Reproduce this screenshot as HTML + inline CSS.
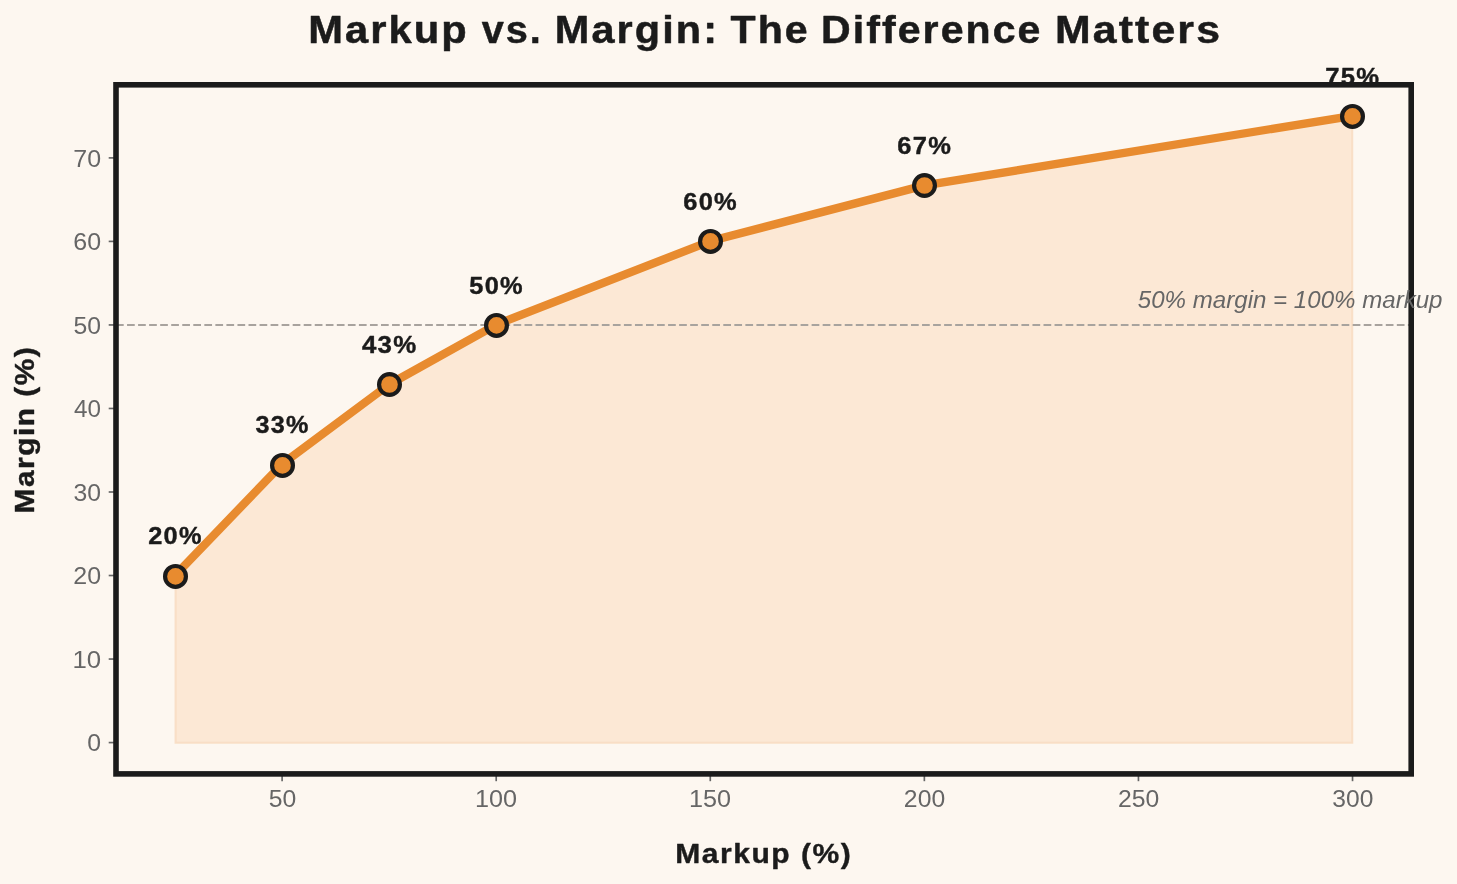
<!DOCTYPE html><html><head><meta charset="utf-8"><style>html,body{margin:0;padding:0;background:#FDF7F0;width:1457px;height:884px;overflow:hidden}svg{display:block;will-change:transform}text{font-family:"Liberation Sans",sans-serif}</style></head><body>
<svg width="1457" height="884" viewBox="0 0 1457 884">
<rect x="0" y="0" width="1457" height="884" fill="#FDF7F0"/>
<polygon points="175.60,575.17 282.36,463.80 389.41,384.25 496.45,324.59 710.53,241.06 924.61,185.38 1352.20,115.77 1352.20,742.73 175.60,742.73" fill="#FCE8D5" stroke="#F8DDC3" stroke-width="2.08" stroke-opacity="0.9"/>
<line x1="116.0" y1="324.94" x2="1411.2" y2="324.94" stroke="#A8A39E" stroke-width="2.08" stroke-dasharray="7.7083 3.3333"/>
<polyline points="175.32,575.17 282.36,463.80 389.41,384.25 496.45,324.59 710.53,241.06 924.61,185.38 1352.78,115.77" fill="none" stroke="#E88B2F" stroke-width="8.33" stroke-linejoin="round"/>
<circle cx="175.50" cy="576.40" r="10.42" fill="#E88B2F" stroke="#1B1B1B" stroke-width="4.17"/>
<circle cx="282.50" cy="465.40" r="10.42" fill="#E88B2F" stroke="#1B1B1B" stroke-width="4.17"/>
<circle cx="389.50" cy="384.50" r="10.42" fill="#E88B2F" stroke="#1B1B1B" stroke-width="4.17"/>
<circle cx="496.50" cy="325.40" r="10.42" fill="#E88B2F" stroke="#1B1B1B" stroke-width="4.17"/>
<circle cx="710.50" cy="241.40" r="10.42" fill="#E88B2F" stroke="#1B1B1B" stroke-width="4.17"/>
<circle cx="924.50" cy="185.50" r="10.42" fill="#E88B2F" stroke="#1B1B1B" stroke-width="4.17"/>
<circle cx="1352.50" cy="116.40" r="10.42" fill="#E88B2F" stroke="#1B1B1B" stroke-width="4.17"/>
<text transform="translate(148.27,543.62) scale(1.0586,1)" font-size="23.929" letter-spacing="0.05em" font-weight="bold" font-style="normal" fill="#1B1B1B" stroke="#1B1B1B" stroke-width="0.4" stroke-linejoin="round">20%</text>
<text transform="translate(255.57,433.25) scale(1.0535,1)" font-size="23.929" letter-spacing="0.05em" font-weight="bold" font-style="normal" fill="#1B1B1B" stroke="#1B1B1B" stroke-width="0.4" stroke-linejoin="round">33%</text>
<text transform="translate(361.95,352.70) scale(1.0798,1)" font-size="23.929" letter-spacing="0.05em" font-weight="bold" font-style="normal" fill="#1B1B1B" stroke="#1B1B1B" stroke-width="0.4" stroke-linejoin="round">43%</text>
<text transform="translate(469.35,294.04) scale(1.0607,1)" font-size="23.929" letter-spacing="0.05em" font-weight="bold" font-style="normal" fill="#1B1B1B" stroke="#1B1B1B" stroke-width="0.4" stroke-linejoin="round">50%</text>
<text transform="translate(683.22,209.51) scale(1.0638,1)" font-size="23.929" letter-spacing="0.05em" font-weight="bold" font-style="normal" fill="#1B1B1B" stroke="#1B1B1B" stroke-width="0.4" stroke-linejoin="round">60%</text>
<text transform="translate(897.25,153.83) scale(1.0658,1)" font-size="23.929" letter-spacing="0.05em" font-weight="bold" font-style="normal" fill="#1B1B1B" stroke="#1B1B1B" stroke-width="0.4" stroke-linejoin="round">67%</text>
<text transform="translate(1325.27,85.22) scale(1.0720,1)" font-size="23.929" letter-spacing="0.05em" font-weight="bold" font-style="normal" fill="#1B1B1B" stroke="#1B1B1B" stroke-width="0.4" stroke-linejoin="round">75%</text>
<line x1="282.11" y1="773.9" x2="282.11" y2="781.20" stroke="#666666" stroke-width="1.67"/>
<line x1="496.20" y1="773.9" x2="496.20" y2="781.20" stroke="#666666" stroke-width="1.67"/>
<line x1="710.28" y1="773.9" x2="710.28" y2="781.20" stroke="#666666" stroke-width="1.67"/>
<line x1="924.36" y1="773.9" x2="924.36" y2="781.20" stroke="#666666" stroke-width="1.67"/>
<line x1="1138.44" y1="773.9" x2="1138.44" y2="781.20" stroke="#666666" stroke-width="1.67"/>
<line x1="1352.53" y1="773.9" x2="1352.53" y2="781.20" stroke="#666666" stroke-width="1.67"/>
<line x1="108.70" y1="742.58" x2="116.0" y2="742.58" stroke="#666666" stroke-width="1.67"/>
<line x1="108.70" y1="659.05" x2="116.0" y2="659.05" stroke="#666666" stroke-width="1.67"/>
<line x1="108.70" y1="575.52" x2="116.0" y2="575.52" stroke="#666666" stroke-width="1.67"/>
<line x1="108.70" y1="492.00" x2="116.0" y2="492.00" stroke="#666666" stroke-width="1.67"/>
<line x1="108.70" y1="408.47" x2="116.0" y2="408.47" stroke="#666666" stroke-width="1.67"/>
<line x1="108.70" y1="324.94" x2="116.0" y2="324.94" stroke="#666666" stroke-width="1.67"/>
<line x1="108.70" y1="241.41" x2="116.0" y2="241.41" stroke="#666666" stroke-width="1.67"/>
<line x1="108.70" y1="157.89" x2="116.0" y2="157.89" stroke="#666666" stroke-width="1.67"/>
<rect x="116.0" y="84.8" width="1295.20" height="689.10" fill="none" stroke="#1B1B1B" stroke-width="5.6" stroke-linejoin="miter"/>
<text transform="translate(308.15,43.05) scale(1.0850,1)" font-size="38.406" letter-spacing="0.05em" font-weight="bold" font-style="normal" fill="#1B1B1B" stroke="#1B1B1B" stroke-width="0.5" stroke-linejoin="round">Markup</text>
<text transform="translate(481.66,43.05) scale(1.0338,1)" font-size="38.406" letter-spacing="0.05em" font-weight="bold" font-style="normal" fill="#1B1B1B" stroke="#1B1B1B" stroke-width="0.5" stroke-linejoin="round">vs.</text>
<text transform="translate(554.87,43.05) scale(1.0795,1)" font-size="38.406" letter-spacing="0.05em" font-weight="bold" font-style="normal" fill="#1B1B1B" stroke="#1B1B1B" stroke-width="0.5" stroke-linejoin="round">Margin:</text>
<text transform="translate(730.46,43.05) scale(1.0709,1)" font-size="38.406" letter-spacing="0.05em" font-weight="bold" font-style="normal" fill="#1B1B1B" stroke="#1B1B1B" stroke-width="0.5" stroke-linejoin="round">The</text>
<text transform="translate(821.09,43.05) scale(1.0697,1)" font-size="38.406" letter-spacing="0.05em" font-weight="bold" font-style="normal" fill="#1B1B1B" stroke="#1B1B1B" stroke-width="0.5" stroke-linejoin="round">Difference</text>
<text transform="translate(1054.98,43.05) scale(1.1142,1)" font-size="38.406" letter-spacing="0.05em" font-weight="bold" font-style="normal" fill="#1B1B1B" stroke="#1B1B1B" stroke-width="0.5" stroke-linejoin="round">Matters</text>
<text transform="translate(268.67,806.76) scale(1.0279,1)" font-size="24.085" font-weight="normal" font-style="normal" fill="#666666">50</text>
<text transform="translate(474.93,806.76) scale(1.0474,1)" font-size="24.085" font-weight="normal" font-style="normal" fill="#666666">100</text>
<text transform="translate(689.01,806.76) scale(1.0474,1)" font-size="24.085" font-weight="normal" font-style="normal" fill="#666666">150</text>
<text transform="translate(903.87,806.76) scale(1.0275,1)" font-size="24.085" font-weight="normal" font-style="normal" fill="#666666">200</text>
<text transform="translate(1117.96,806.76) scale(1.0275,1)" font-size="24.085" font-weight="normal" font-style="normal" fill="#666666">250</text>
<text transform="translate(1332.29,806.76) scale(1.0210,1)" font-size="24.085" font-weight="normal" font-style="normal" fill="#666666">300</text>
<text transform="translate(87.21,751.34) scale(1.0354,1)" font-size="23.944" font-weight="normal" font-style="normal" fill="#666666">0</text>
<text transform="translate(72.54,667.81) scale(1.0758,1)" font-size="23.944" font-weight="normal" font-style="normal" fill="#666666">10</text>
<text transform="translate(73.35,584.28) scale(1.0441,1)" font-size="23.944" font-weight="normal" font-style="normal" fill="#666666">20</text>
<text transform="translate(73.61,500.76) scale(1.0340,1)" font-size="23.944" font-weight="normal" font-style="normal" fill="#666666">30</text>
<text transform="translate(74.11,417.23) scale(1.0143,1)" font-size="23.944" font-weight="normal" font-style="normal" fill="#666666">40</text>
<text transform="translate(73.61,333.70) scale(1.0340,1)" font-size="23.944" font-weight="normal" font-style="normal" fill="#666666">50</text>
<text transform="translate(73.35,250.17) scale(1.0441,1)" font-size="23.944" font-weight="normal" font-style="normal" fill="#666666">60</text>
<text transform="translate(73.35,166.65) scale(1.0441,1)" font-size="23.944" font-weight="normal" font-style="normal" fill="#666666">70</text>
<text transform="translate(1137.82,308.36) scale(0.9923,1)" font-size="24.286" font-weight="normal" font-style="italic" fill="#666666">50% margin = 100% markup</text>
<text transform="translate(675.31,862.50) scale(1.0525,1)" font-size="28.551" letter-spacing="0.05em" font-weight="bold" font-style="normal" fill="#1B1B1B" stroke="#1B1B1B" stroke-width="0.4" stroke-linejoin="round">Markup (%)</text>
<text transform="translate(33.70,513.38) rotate(-90) scale(1.0468,1)" font-size="28.551" letter-spacing="0.05em" font-weight="bold" font-style="normal" fill="#1B1B1B" stroke="#1B1B1B" stroke-width="0.4" stroke-linejoin="round">Margin (%)</text>
</svg></body></html>
